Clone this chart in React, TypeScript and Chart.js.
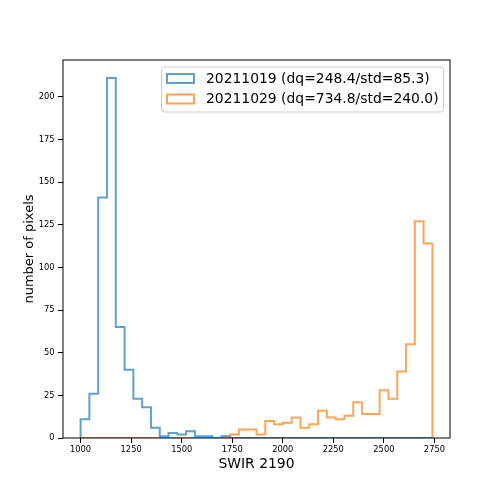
import React, { useEffect, useRef } from "react";
import { Chart, registerables } from "chart.js";

Chart.register(...registerables);

// Histogram bins (common to both dates): 40 equal bins from BIN_START to BIN_END
const BIN_START = 1000;
const BIN_END = 2740;

const COUNTS_20211019 = [
  11, 26, 141, 211, 65, 40, 23, 18, 6, 1,
  3, 2, 4, 1, 1, 0, 1, 0, 0, 0,
  0, 0, 0, 0, 0, 0, 0, 0, 0, 0,
  0, 0, 0, 0, 0, 0, 0, 0, 0, 0,
];
const COUNTS_20211029 = [
  0, 0, 0, 0, 0, 0, 0, 0, 0, 0,
  0, 0, 0, 0, 0, 0, 0, 2, 5, 5,
  2, 10, 8, 9, 12, 6, 8, 16, 12, 11,
  13, 21, 14, 14, 28, 23, 39, 55, 127, 114,
];

const LABEL_1 = "20211019 (dq=248.4/std=85.3)";
const LABEL_2 = "20211029 (dq=734.8/std=240.0)";
const X_TITLE = "SWIR 2190";
const Y_TITLE = "number of pixels";

const X_TICKS = [1000, 1250, 1500, 1750, 2000, 2250, 2500, 2750];
const Y_TICKS = [0, 25, 50, 75, 100, 125, 150, 175, 200];
const X_MIN = 913;
const X_MAX = 2827;
const Y_MAX = 221.55;

const BLUE = "rgba(31,119,180,0.7)";
const ORANGE = "rgba(255,127,14,0.7)";
const FONT = "'DejaVu Sans', sans-serif";

function stepPoints(counts: number[]) {
  const n = counts.length;
  const w = (BIN_END - BIN_START) / n;
  const pts: { x: number; y: number }[] = [{ x: BIN_START, y: 0 }];
  counts.forEach((c, i) => pts.push({ x: BIN_START + i * w, y: c }));
  pts.push({ x: BIN_END, y: 0 });
  return pts;
}

const framePlugin = {
  id: "frame",
  afterDatasetsDraw(chart: any) {
    const { ctx, chartArea: a } = chart;
    ctx.save();
    ctx.strokeStyle = "#000";
    ctx.lineWidth = 1;
    ctx.strokeRect(a.left, a.top, a.right - a.left, a.bottom - a.top);
    ctx.restore();
  },
};

const legendPlugin = {
  id: "mplLegend",
  afterDraw(chart: any) {
    const ctx = chart.ctx;
    const x = 161.5, y = 67, w = 282, h = 45;
    ctx.save();
    ctx.beginPath();
    ctx.roundRect(x, y, w, h, 3);
    ctx.fillStyle = "rgba(255,255,255,0.8)";
    ctx.fill();
    ctx.strokeStyle = "rgba(204,204,204,1)";
    ctx.lineWidth = 1;
    ctx.stroke();
    const rows = [
      { label: LABEL_1, color: BLUE, cy: 78.5 },
      { label: LABEL_2, color: ORANGE, cy: 99 },
    ];
    ctx.font = `13.9px ${FONT}`;
    ctx.textBaseline = "middle";
    rows.forEach((r) => {
      ctx.strokeStyle = r.color;
      ctx.lineWidth = 2;
      ctx.strokeRect(167, r.cy - 4.5, 27, 9);
      ctx.fillStyle = "#000";
      ctx.fillText(r.label, 206, r.cy + 0.5);
    });
    ctx.restore();
  },
};

export default function App() {
  const ref = useRef<HTMLCanvasElement | null>(null);
  useEffect(() => {
    if (!ref.current) return;
    const chart = new Chart(ref.current, {
      type: "line",
      data: {
        datasets: [
          {
            label: LABEL_1,
            data: stepPoints(COUNTS_20211019),
            borderColor: BLUE,
            borderWidth: 2,
            stepped: "before",
            pointRadius: 0,
            fill: false,
            order: 1,
          },
          {
            label: LABEL_2,
            data: stepPoints(COUNTS_20211029),
            borderColor: ORANGE,
            borderWidth: 2,
            stepped: "before",
            pointRadius: 0,
            fill: false,
            order: 0,
          },
        ],
      },
      options: {
        responsive: false,
        animation: false,
        devicePixelRatio: 1,
        layout: { padding: { left: 0, top: 60, right: 50, bottom: 0 } },
        plugins: { legend: { display: false }, tooltip: { enabled: false } },
        scales: {
          x: {
            type: "linear",
            min: X_MIN,
            max: X_MAX,
            afterBuildTicks: (s: any) => {
              s.ticks = X_TICKS.map((v) => ({ value: v }));
            },
            afterFit: (s: any) => {
              s.height = 62;
            },
            grid: {
              drawOnChartArea: false,
              drawTicks: true,
              tickLength: 5,
              tickColor: "#000",
              tickWidth: 1,
            },
            border: { display: false },
            ticks: {
              color: "#000",
              font: { family: FONT, size: 8.3 },
              padding: 2,
              maxRotation: 0,
              autoSkip: false,
              callback: (v: any) => String(v),
            },
            title: {
              display: true,
              text: X_TITLE,
              color: "#000",
              font: { family: FONT, size: 13.9 },
              padding: { top: 0, bottom: 27.5 },
            },
          },
          y: {
            type: "linear",
            min: 0,
            max: Y_MAX,
            afterBuildTicks: (s: any) => {
              s.ticks = Y_TICKS.map((v) => ({ value: v }));
            },
            afterFit: (s: any) => {
              s.width = 63;
            },
            grid: {
              drawOnChartArea: false,
              drawTicks: true,
              tickLength: 5,
              tickColor: "#000",
              tickWidth: 1,
            },
            border: { display: false },
            ticks: {
              color: "#000",
              font: { family: FONT, size: 8.3 },
              padding: 3.5,
              autoSkip: false,
              callback: (v: any) => String(v),
            },
            title: {
              display: true,
              text: Y_TITLE,
              color: "#000",
              font: { family: FONT, size: 13 },
              padding: { top: 22, bottom: 0 },
            },
          },
        },
      },
      plugins: [framePlugin, legendPlugin],
    });
    return () => chart.destroy();
  }, []);
  return (
    <div style={{ position: "absolute", left: 0, top: 0, width: 500, height: 500, background: "#fff" }}>
      <canvas ref={ref} width={500} height={500} style={{ width: 500, height: 500 }} />
    </div>
  );
}
